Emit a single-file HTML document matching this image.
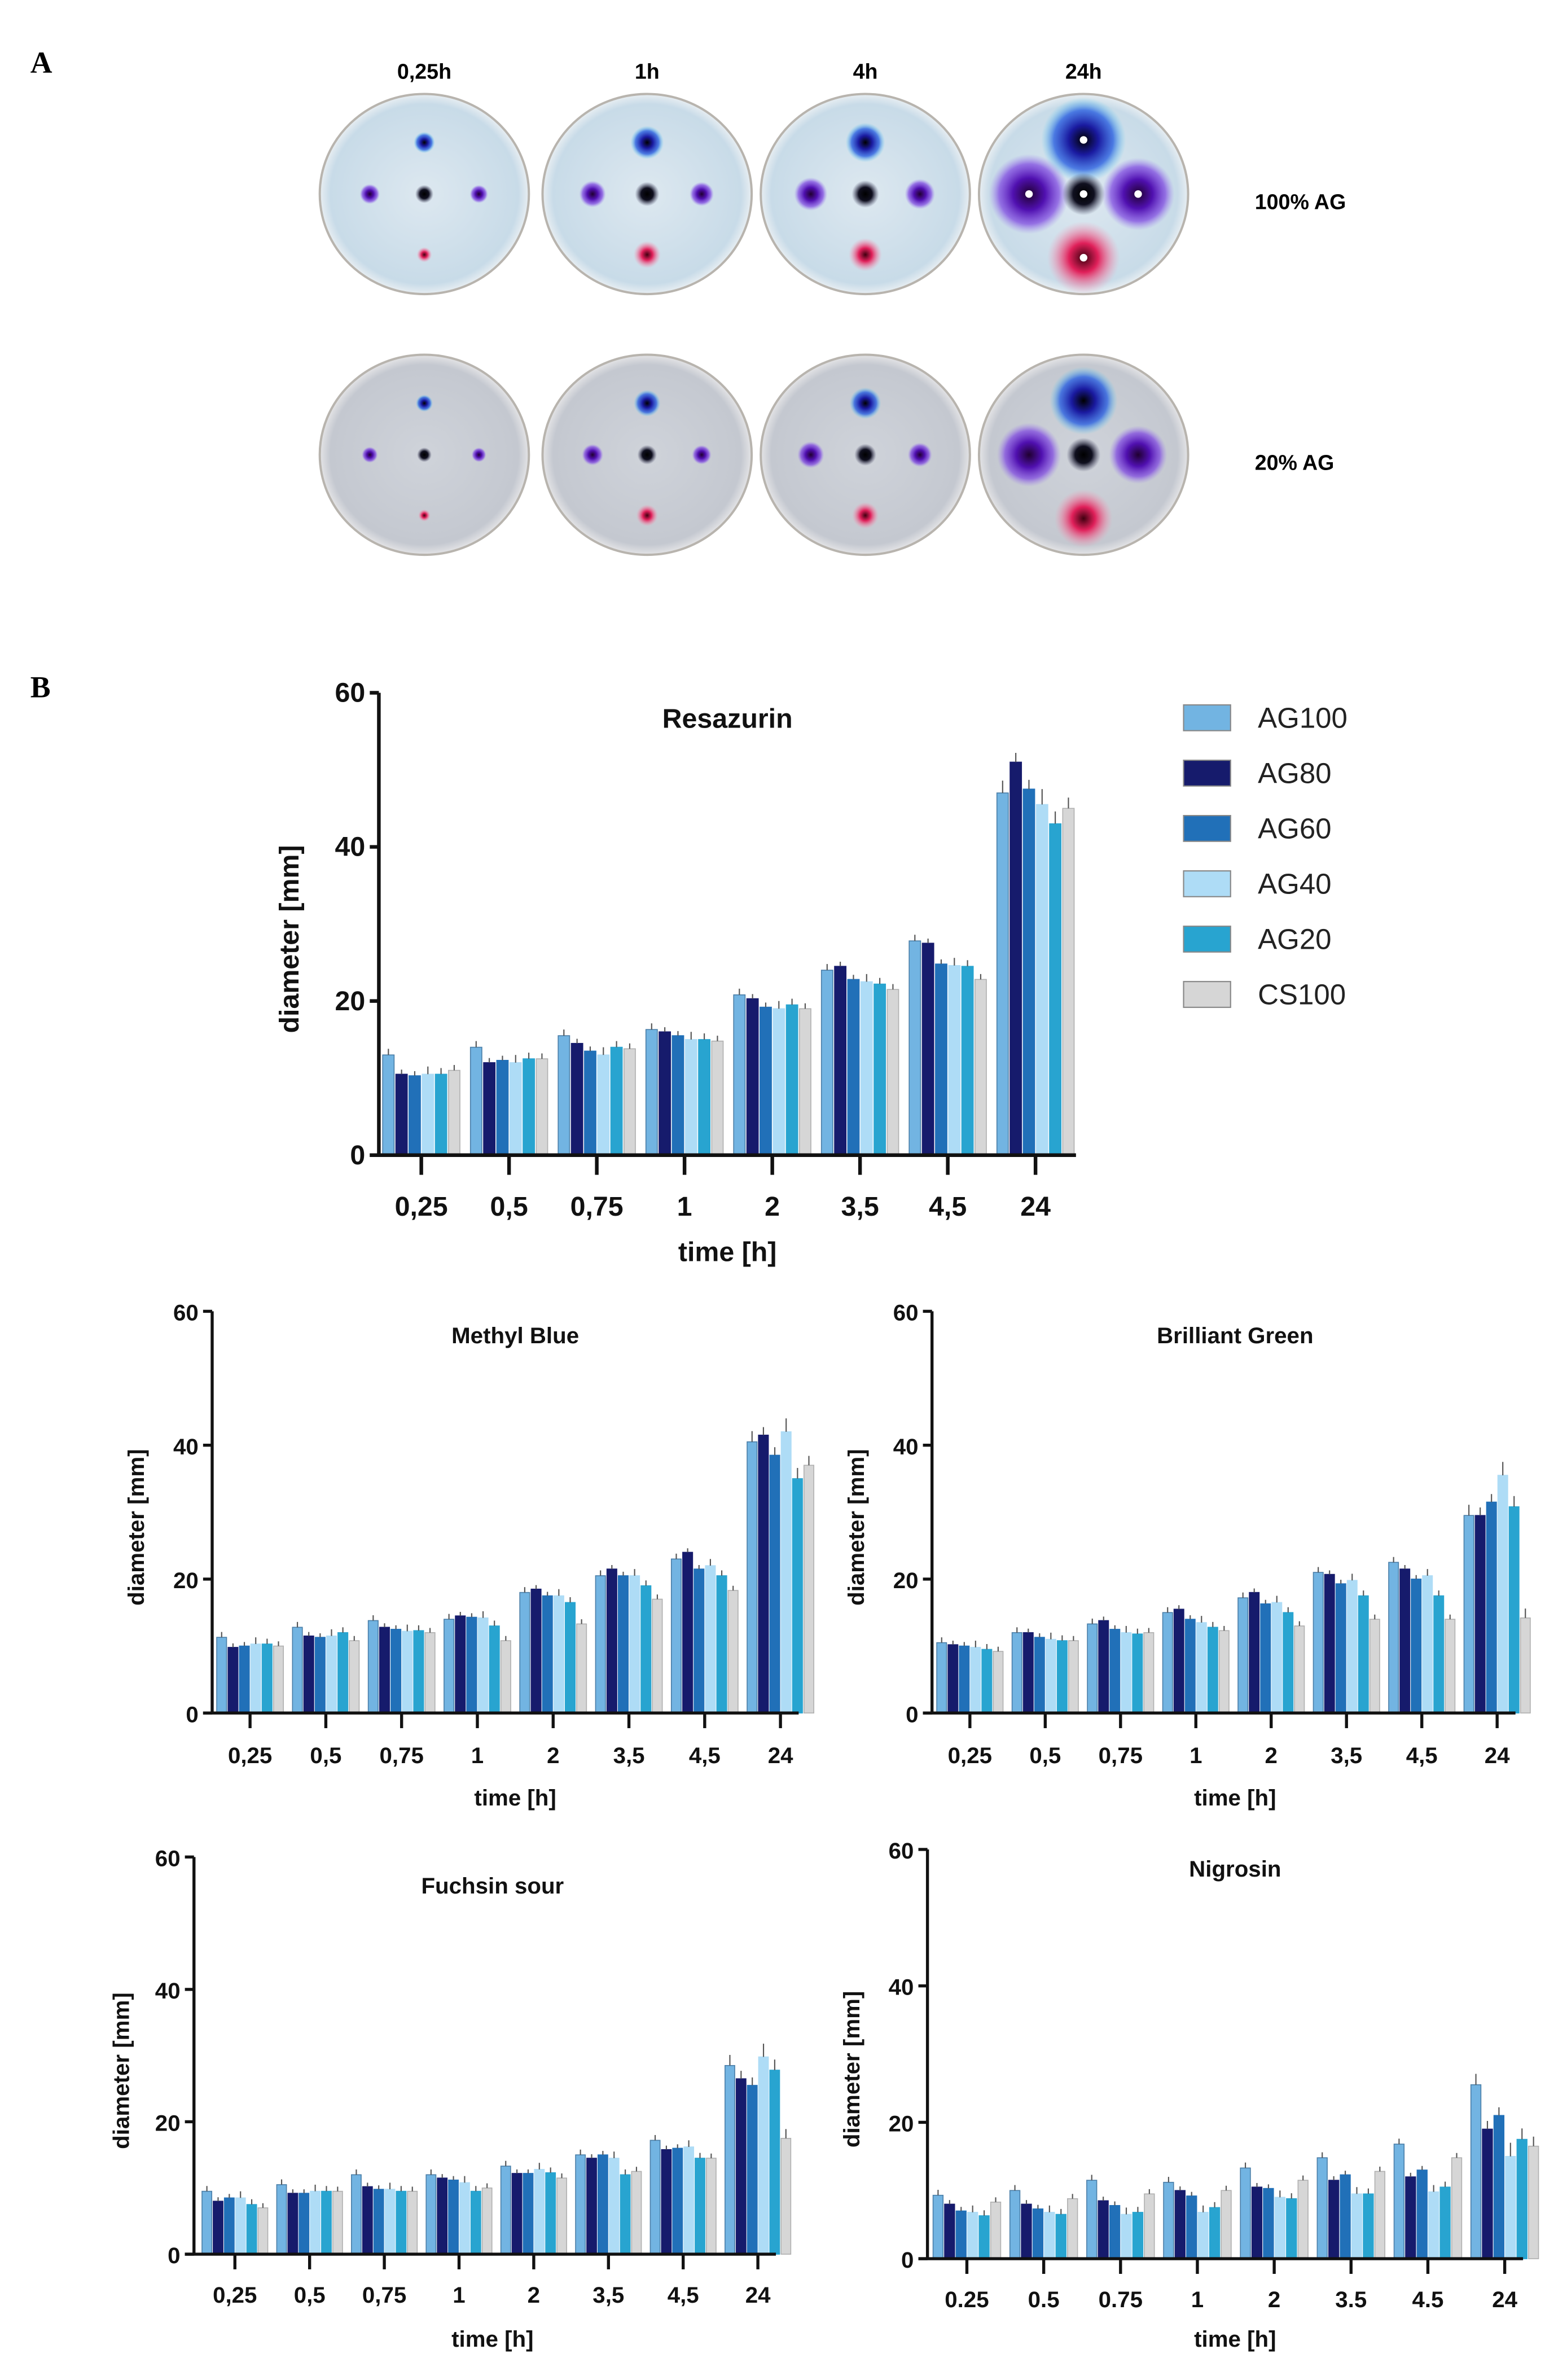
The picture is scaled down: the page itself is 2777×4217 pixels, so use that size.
<!DOCTYPE html>
<html><head><meta charset="utf-8">
<style>
html,body{margin:0;padding:0;background:#fff;}
svg{display:block;font-family:"Liberation Sans",Arial,sans-serif;}
</style></head>
<body>
<svg id="fig" width="2777" height="4217" viewBox="0 0 1034 1570" preserveAspectRatio="none" xmlns="http://www.w3.org/2000/svg">
<defs>
<radialGradient id="bluehalo"><stop offset="0" stop-color="#000" /><stop offset="0.35" stop-color="#1a1aa0"/><stop offset="0.7" stop-color="#2a60e0" stop-opacity="0.8"/><stop offset="1" stop-color="#5ad0f0" stop-opacity="0"/></radialGradient>
<radialGradient id="purphalo"><stop offset="0" stop-color="#200030"/><stop offset="0.4" stop-color="#5010b0"/><stop offset="0.75" stop-color="#7a40e0" stop-opacity="0.7"/><stop offset="1" stop-color="#a080f0" stop-opacity="0"/></radialGradient>
<radialGradient id="pinkhalo"><stop offset="0" stop-color="#400010"/><stop offset="0.4" stop-color="#e0205a"/><stop offset="1" stop-color="#ff90b0" stop-opacity="0"/></radialGradient>
<radialGradient id="blackhalo"><stop offset="0" stop-color="#000"/><stop offset="0.5" stop-color="#101020"/><stop offset="1" stop-color="#404060" stop-opacity="0"/></radialGradient>
<radialGradient id="plate1"><stop offset="0" stop-color="#dde8f0"/><stop offset="0.9" stop-color="#c8dbe8"/><stop offset="1" stop-color="#e8eef2"/></radialGradient>
<radialGradient id="plate2"><stop offset="0" stop-color="#cfd3da"/><stop offset="0.9" stop-color="#c4c8d0"/><stop offset="1" stop-color="#e4e4e6"/></radialGradient>
</defs>
<text x="20" y="48" font-family="Liberation Serif" font-weight="bold" font-size="20">A</text>
<text x="20" y="460" font-family="Liberation Serif" font-weight="bold" font-size="20">B</text>
<g id="plates"></g>
<g id="charts"></g>
</svg>
<script>
const NS="http://www.w3.org/2000/svg";
const series=["AG100","AG80","AG60","AG40","AG20","CS100"];
const colors=["#72b4e2","#161b6c","#2170b8","#aedcf6","#28a4d0","#d6d6d6"];
const times=["0,25","0,5","0,75","1","2","3,5","4,5","24"];
const timesDot=["0.25","0.5","0.75","1","2","3.5","4.5","24"];
const yTicks=[0,20,40,60];
// values per time group: AG100, AG80, AG60, AG40, AG20, CS100
const resazurin=[[13,10.5,10.3,10.5,10.5,11],[14,12,12.3,12,12.5,12.5],[15.5,14.5,13.5,13,14,13.8],[16.3,16,15.5,15,15,14.8],[20.8,20.3,19.2,19,19.5,19],[24,24.5,22.8,22.5,22.2,21.5],[27.8,27.5,24.8,24.6,24.5,22.8],[47,51,47.5,45.5,43,45]];
const methylBlue=[[11.3,9.8,10,10.3,10.3,10],[12.8,11.5,11.3,11.5,12,10.8],[13.8,12.8,12.5,12.2,12.3,12],[14,14.5,14.3,14.2,13,10.8],[18,18.5,17.5,17.5,16.5,13.3],[20.5,21.5,20.5,20.5,19,17],[23,24,21.5,22,20.5,18.3],[40.5,41.5,38.5,42,35,37]];
const brilliantGreen=[[10.5,10.2,10,9.8,9.5,9.2],[12,12,11.3,11,10.8,10.8],[13.3,13.8,12.5,12,11.8,12],[15,15.5,14,13.5,12.8,12.3],[17.2,18,16.3,16.5,15,13],[21,20.7,19.3,19.8,17.5,14],[22.5,21.5,20,20.5,17.5,14],[29.5,29.5,31.5,35.5,30.8,14.2]];
const fuchsin=[[9.5,8,8.5,8.5,7.5,7],[10.5,9.2,9.2,9.5,9.5,9.5],[12,10.2,9.8,9.8,9.5,9.5],[12,11.5,11.2,10.8,9.5,10],[13.3,12.2,12.2,12.8,12.3,11.5],[15,14.5,15,14.5,12,12.5],[17.2,15.8,16,16.2,14.5,14.5],[28.5,26.5,25.5,29.8,27.8,17.5]];
const nigrosin=[[9.3,8,7,6.8,6.3,8.3],[10,8,7.3,6.8,6.5,8.8],[11.5,8.5,7.8,6.5,6.8,9.5],[11.2,10,9.2,6.8,7.5,10],[13.3,10.5,10.3,9,8.8,11.5],[14.8,11.5,12.3,9.5,9.5,12.8],[16.8,12,13,9.8,10.5,14.8],[25.5,19,21,15,17.5,16.5]];
const errors=[0.8,0.6,0.6,1,0.8,0.7];

function el(tag,attrs,parent,txt){const e=document.createElementNS(NS,tag);for(const k in attrs)e.setAttribute(k,attrs[k]);if(txt!==undefined)e.textContent=txt;parent.appendChild(e);return e;}

const charts=document.getElementById('charts');
function chart(cfg){
  const g=el('g',{},charts);
  
  
  const y=v=>cfg.y0-(v/60)*(cfg.y0-cfg.y60);
  const x=i=>cfg.x0+i*cfg.step;
  const bw=cfg.step*0.13, gap=cfg.step*0.02;
  cfg.data.forEach((grp,i)=>{
    grp.forEach((v,s)=>{
      const bx=x(i)-3*(bw+gap)+s*(bw+gap)+gap/2;
      const r=el('rect',{x:bx,y:y(v),width:bw,height:y(0)-y(v),fill:colors[s],stroke:s==0?"#4a7ea8":(s==5?"#b0b0b0":colors[s]),"stroke-width":0.6},g);
      
      
      const e=el('line',{x1:bx+bw/2,x2:bx+bw/2,y1:y(v),y2:y(v+errors[s]*(i==7?2:1)),stroke:"#555","stroke-width":0.8},g);
      
      
    });
  });
  const ax=el('g',{stroke:"#111","stroke-width":cfg.big?2.4:2},g);
  
  
  el('line',{x1:cfg.ax,x2:cfg.ax,y1:y(60),y2:y(0)},ax);
  el('line',{x1:cfg.ax-6,x2:cfg.xend,y1:y(0),y2:y(0)},ax);
  yTicks.forEach(t=>{
    el('line',{x1:cfg.ax-6,x2:cfg.ax,y1:y(t),y2:y(t)},ax);
    const tl=el('text',{x:cfg.ax-9,y:y(t)+6,"text-anchor":"end","font-size":cfg.fs,"font-weight":"bold",fill:"#111"},g,String(t));
    
    
  });
  cfg.labels.forEach((l,i)=>{
    el('line',{x1:x(i),x2:x(i),y1:y(0),y2:y(0)+(cfg.big?13:10)},ax);
    const tl=el('text',{x:x(i),y:cfg.labY,"text-anchor":"middle","font-size":cfg.fs,"font-weight":"bold",fill:"#111"},g,l);
    
    
  });
  const t=el('text',{x:cfg.tx,y:cfg.ty,"text-anchor":"middle","font-size":cfg.fs,"font-weight":"bold",fill:"#111"},g,cfg.title);
  
  
  const xt=el('text',{x:cfg.tx,y:cfg.xtY,"text-anchor":"middle","font-size":cfg.fs,"font-weight":"bold",fill:"#111"},g,"time [h]");
  
  
  const cy=(y(0)+y(60))/2+10;
  const yt=el('text',{x:cfg.ylx,y:cy,"text-anchor":"middle","font-size":cfg.fs,"font-weight":"bold",fill:"#111",transform:`rotate(-90 ${cfg.ylx} ${cy})`},g,"diameter [mm]");
  
  
}
chart({name:'resazurin-chart',data:resazurin,labels:times,ax:250,xend:710,y0:762,y60:457,x0:278,step:57.9,fs:18,big:true,labY:802,xtY:832,tx:480,ty:480,title:"Resazurin",ylx:197});
chart({name:'methyl-blue-chart',data:methylBlue,labels:times,ax:140,xend:527,y0:1130,y60:865,x0:165,step:50,fs:15,labY:1163,xtY:1191,tx:340,ty:886,title:"Methyl Blue",ylx:95});
chart({name:'brilliant-green-chart',data:brilliantGreen,labels:times,ax:615,xend:1000,y0:1130,y60:865,x0:640,step:49.7,fs:15,labY:1163,xtY:1191,tx:815,ty:886,title:"Brilliant Green",ylx:570});
chart({name:'fuchsin-sour-chart',data:fuchsin,labels:times,ax:128,xend:512,y0:1487,y60:1225,x0:155,step:49.3,fs:15,labY:1519,xtY:1548,tx:325,ty:1249,title:"Fuchsin sour",ylx:85});
chart({name:'nigrosin-chart',data:nigrosin,labels:timesDot,ax:612,xend:1005,y0:1490,y60:1220,x0:638,step:50.7,fs:15,labY:1522,xtY:1548,tx:815,ty:1238,title:"Nigrosin",ylx:567});

// legend
const lg=el('g',{},charts);


series.forEach((s,i)=>{
  const yy=473+i*36.5;
  const r=el('rect',{x:781,y:yy-8,width:31,height:17,fill:colors[i],stroke:"#888","stroke-width":0.8},lg);
  
  
  const t=el('text',{x:830,y:yy+7,"font-size":19,fill:"#222"},lg,s);
  
  
});

// plates
const plates=document.getElementById('plates');
const cols=[280,427,571,715], heads=["0,25h","1h","4h","24h"];
const sizes=[[6,7,5,6],[8,11,9,8],[10,13,11,9],[24,28,24,14]];
heads.forEach((h,i)=>{
  const t=el('text',{x:cols[i],y:52,"text-anchor":"middle","font-size":14,"font-weight":"bold"},plates,h);
  
  
});
[[128,'plate1',1],[300,'plate2',0.8]].forEach(([cy,grad,f],row)=>{
  cols.forEach((cx,i)=>{
    const p=el('ellipse',{cx:cx,cy:cy,rx:69,ry:66,fill:`url(#${grad})`,stroke:"#b8b4ae","stroke-width":1.5},plates);
    
    
    const s=sizes[i];
    const spots=[[0,-34,'bluehalo',s[1]],[-36,0,'purphalo',s[0]*1.1],[36,0,'purphalo',s[0]],[0,0,'blackhalo',s[3]],[0,40,'pinkhalo',s[2]]];
    spots.forEach(([dx,dy,hg,r])=>{
      const c=el('circle',{cx:cx+dx,cy:cy+dy*(1+(i==3?0.05:0)),r:r*f,fill:`url(#${hg})`},plates);
      
      
      if(row==0&&i==3&&hg!=='blackhalo'){el('circle',{cx:cx+dx,cy:cy+dy*1.05,r:2.5,fill:"#fff"},plates);}
    });
    if(row==0&&i==3){el('circle',{cx:cx,cy:cy,r:2.5,fill:"#fff"},plates);}
  });
  const lab=el('text',{x:828,y:cy+10,"font-size":14,"font-weight":"bold"},plates,row==0?"100% AG":"20% AG");
  
  
});
</script>
</body></html>
